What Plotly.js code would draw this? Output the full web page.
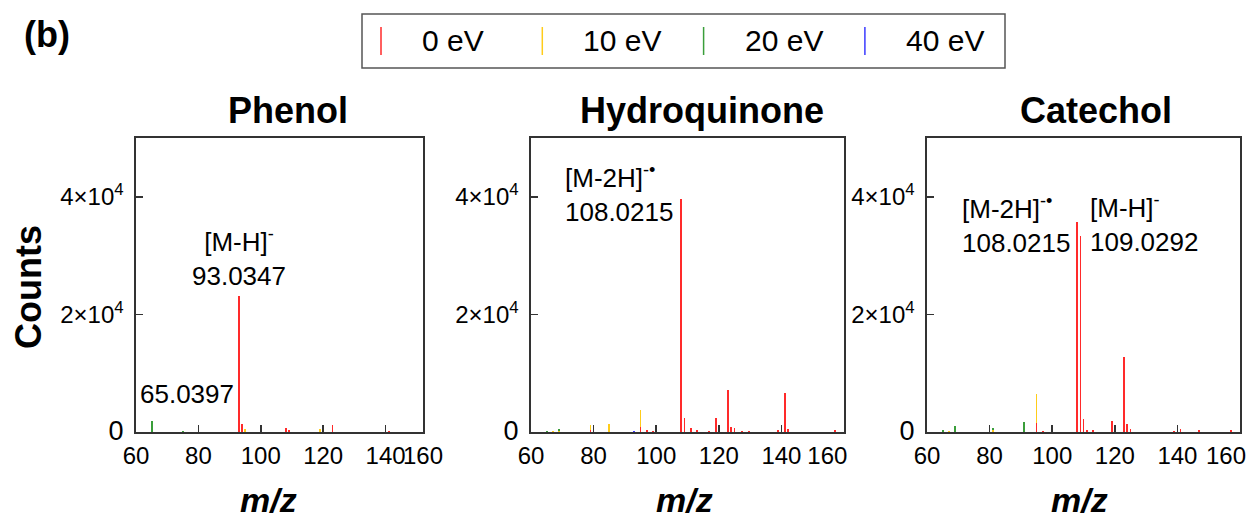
<!DOCTYPE html>
<html>
<head>
<meta charset="utf-8">
<script src="https://cdn.plot.ly/plotly-3.0.1.min.js"></script>
<style>html,body{margin:0;padding:0;background:#fff;}#chart{width:1258px;height:518px;}</style>
</head>
<body>
<div id="chart"></div>
<script>
// ---------- data (m/z and counts) ----------
const energies = ['0 eV', '10 eV', '20 eV', '40 eV'];
const energyColors = ['#ff2a2a', '#ffcc1a', '#3a9e3a', '#3a3aff'];
const compounds = ['Phenol', 'Hydroquinone', 'Catechol'];

// Phenol
const phenolMz0 = [93.0347, 94.04, 108.0, 109.0, 123.0, 141.0];
const phenolCt0 = [23200, 1400, 680, 300, 1150, 120];
const phenolMz10 = [95.0, 119.0];
const phenolCt10 = [450, 450];
const phenolMz20 = [65.0397, 75.0];
const phenolCt20 = [1800, 200];
const phenolMz40 = [65.0397];
const phenolCt40 = [100];

// Hydroquinone
const hqMz0 = [79.0, 95.0, 97.0, 99.0, 108.0215, 109.03, 111.0, 113.0, 117.0, 119.0, 123.03, 124.0, 125.0, 127.5, 129.6, 139.0, 141.03, 142.0, 157.0];
const hqCt0 = [300, 850, 400, 200, 39600, 2300, 600, 300, 100, 2300, 7200, 900, 600, 100, 100, 400, 6550, 450, 300];
const hqMz10 = [67.0, 69.0, 79.0, 85.0, 95.0];
const hqCt10 = [100, 200, 1150, 1300, 3800];
const hqMz20 = [65.0, 69.0, 95.0];
const hqCt20 = [150, 550, 1700];
const hqMz40 = [93.0];
const hqCt40 = [120];

// Catechol
const catMz0 = [95.0, 97.0, 108.0215, 109.0292, 110.0, 111.0, 113.0, 119.0, 123.03, 124.0, 125.0, 139.0, 141.0, 147.0, 157.0];
const catCt0 = [1500, 200, 35800, 33400, 2200, 350, 300, 1900, 12800, 1350, 550, 250, 450, 350, 300];
const catMz10 = [67.0, 81.0, 95.0];
const catCt10 = [200, 400, 6400];
const catMz20 = [65.0, 69.0, 81.0, 91.0];
const catCt20 = [400, 1000, 750, 1750];
const catMz40 = [65.0];
const catCt40 = [100];

// axis ticks
const xTickVals = [60, 80, 100, 120, 140, 160];
const xTickText = ['60', '80', '100', '120', '140', '160'];
const phenolXTickVals = [60, 80, 100, 120, 140, 152];
const yTickVals = [0, 20000, 40000];
const yTickText = ['<span style="font-size:27px">0</span>', '2×10<sup>4</sup>', '4×10<sup>4</sup>'];

// ---------- build ----------
const panels = [
  {mz: [phenolMz0, phenolMz10, phenolMz20, phenolMz40], ct: [phenolCt0, phenolCt10, phenolCt20, phenolCt40]},
  {mz: [hqMz0, hqMz10, hqMz20, hqMz40], ct: [hqCt0, hqCt10, hqCt20, hqCt40]},
  {mz: [catMz0, catMz10, catMz20, catMz40], ct: [catCt0, catCt10, catCt20, catCt40]}
];

const traces = [];
panels.forEach((p, pi) => {
  const sfx = pi === 0 ? '' : String(pi + 1);
  // draw 40 eV first, 0 eV last (on top)
  for (let e = energies.length - 1; e >= 0; e--) {
    traces.push({
      type: 'bar',
      x: p.mz[e], y: p.ct[e],
      width: 0.6,
      name: energies[e],
      marker: {color: energyColors[e], line: {width: 0}},
      xaxis: 'x' + sfx, yaxis: 'y' + sfx,
      showlegend: false,
      hoverinfo: 'x+y+name'
    });
  }
});

const W = 1258, H = 518;
const px = v => v / W, py = v => 1 - v / H;
const yDom = [py(432), py(138)];
const xDoms = [[px(136), px(423)], [px(531), px(844)], [px(927), px(1240)]];

const font = 'Liberation Sans, Arial, sans-serif';
// last label nudged left (as in the reference) with non-breaking spaces
function pad(n) { return '&nbsp;'.repeat(n); }
function xa(dom, range, tv, lastPad, dropLast) {
  let tt = xTickText.slice();
  tt[tt.length - 1] = tt[tt.length - 1] + pad(lastPad);
  let vals = tv.slice();
  if (dropLast) { vals = vals.slice(0, -1); tt = tt.slice(0, -1); }
  return {
    domain: dom, range: range, tickvals: vals, ticktext: tt,
    ticks: 'inside', ticklen: 7, tickwidth: 1.5, tickcolor: '#333',
    showline: true, mirror: true, linecolor: '#333', linewidth: 1.6,
    showgrid: false, zeroline: false, fixedrange: true,
    tickangle: 0, ticklabeloverflow: 'allow',
    tickfont: {family: font, size: 24, color: '#000'}, ticklabelstandoff: 2
  };
}
function ya(anchor) {
  return {
    domain: yDom, range: [0, 50000], anchor: anchor,
    tickvals: yTickVals, ticktext: yTickText,
    ticks: 'inside', ticklen: 7, tickwidth: 1.5, tickcolor: '#333',
    showline: true, mirror: true, linecolor: '#333', linewidth: 1.6,
    showgrid: false, zeroline: false, fixedrange: true,
    tickfont: {family: font, size: 24, color: '#000'}, ticklabelstandoff: 6
  };
}

const annFont = {family: font, size: 26, color: '#000'};
const annotations = [
  {xref: 'x', yref: 'y', x: 93.0347, y: 23200, text: '[M-H]<sup>-</sup><br>93.0347', showarrow: false, yanchor: 'bottom', yshift: 3, font: annFont},
  {xref: 'x', yref: 'y', x: 65.0397, y: 1800, text: '65.0397', showarrow: false, yanchor: 'bottom', xshift: 35, yshift: 10, font: annFont},
  {xref: 'x2', yref: 'y2', x: 108.0215, y: 39600, text: '[M-2H]<sup>-•</sup><br>108.0215', showarrow: false, xanchor: 'right', align: 'left', xshift: -6, yanchor: 'middle', yshift: 6, font: annFont},
  {xref: 'x3', yref: 'y3', x: 108.0215, y: 35800, text: '[M-2H]<sup>-•</sup><br>108.0215', showarrow: false, xanchor: 'right', align: 'left', xshift: -5, yanchor: 'middle', yshift: -3, font: annFont},
  {xref: 'x3', yref: 'y3', x: 109.0292, y: 33400, text: '[M-H]<sup>-</sup><br>109.0292', showarrow: false, xanchor: 'left', align: 'left', xshift: 8, yanchor: 'middle', yshift: 12, font: annFont},
  // last x tick label of the Catechol panel, kept inside the page
  {xref: 'x3', yref: 'paper', x: xTickVals[xTickVals.length - 1], y: py(455), text: xTickText[xTickText.length - 1], showarrow: false, xanchor: 'right', xshift: 8, yanchor: 'middle', font: {family: font, size: 24, color: '#000'}}
];

// subplot titles and axis titles
const titleX = [288, 702, 1096];
const mzX = [268, 684, 1079];
compounds.forEach((c, i) => {
  annotations.push({xref: 'paper', yref: 'paper', x: px(titleX[i]), y: py(110), text: '<b>' + c + '</b>', showarrow: false, xanchor: 'center', yanchor: 'middle', font: {family: font, size: 36, color: '#000'}});
  annotations.push({xref: 'paper', yref: 'paper', x: px(mzX[i]), y: py(500), text: '<b><i>m/z</i></b>', showarrow: false, xanchor: 'center', yanchor: 'middle', font: {family: font, size: 34, color: '#000'}});
});
annotations.push({xref: 'paper', yref: 'paper', x: px(28), y: py(287), text: '<b>Counts</b>', textangle: -90, showarrow: false, xanchor: 'center', yanchor: 'middle', font: {family: font, size: 36, color: '#000'}});
annotations.push({xref: 'paper', yref: 'paper', x: px(47), y: py(35), text: '<b>(b)</b>', showarrow: false, xanchor: 'center', yanchor: 'middle', font: {family: font, size: 36, color: '#000'}});

// custom legend (vertical stick symbols)
const shapes = [
  {type: 'rect', xref: 'paper', yref: 'paper', x0: px(362), x1: px(1005), y0: py(68), y1: py(14), line: {color: '#555', width: 1.5}, fillcolor: 'rgba(0,0,0,0)'}
];
energies.forEach((e, i) => {
  const lx = 381 + i * 161.3;
  shapes.push({type: 'line', xref: 'paper', yref: 'paper', x0: px(lx), x1: px(lx), y0: py(55), y1: py(27), line: {color: energyColors[i], width: 1.5}});
  annotations.push({xref: 'paper', yref: 'paper', x: px(lx + 39), y: py(41), text: e, showarrow: false, xanchor: 'left', yanchor: 'middle', font: {family: font, size: 30, color: '#000'}});
});

const layout = {
  width: W, height: H,
  margin: {l: 0, r: 0, t: 0, b: 0},
  paper_bgcolor: '#fff', plot_bgcolor: '#fff',
  barmode: 'overlay', bargap: 0,
  showlegend: false,
  xaxis: Object.assign(xa(xDoms[0], [60, 152], phenolXTickVals, 0, false), {anchor: 'y'}),
  xaxis2: Object.assign(xa(xDoms[1], [60, 160], xTickVals, 5, false), {anchor: 'y2'}),
  xaxis3: Object.assign(xa(xDoms[2], [60, 160], xTickVals, 0, true), {anchor: 'y3'}),
  yaxis: ya('x'), yaxis2: ya('x2'), yaxis3: ya('x3'),
  annotations: annotations,
  shapes: shapes
};

Plotly.newPlot('chart', traces, layout, {displayModeBar: false, staticPlot: true});
</script>
</body>
</html>
